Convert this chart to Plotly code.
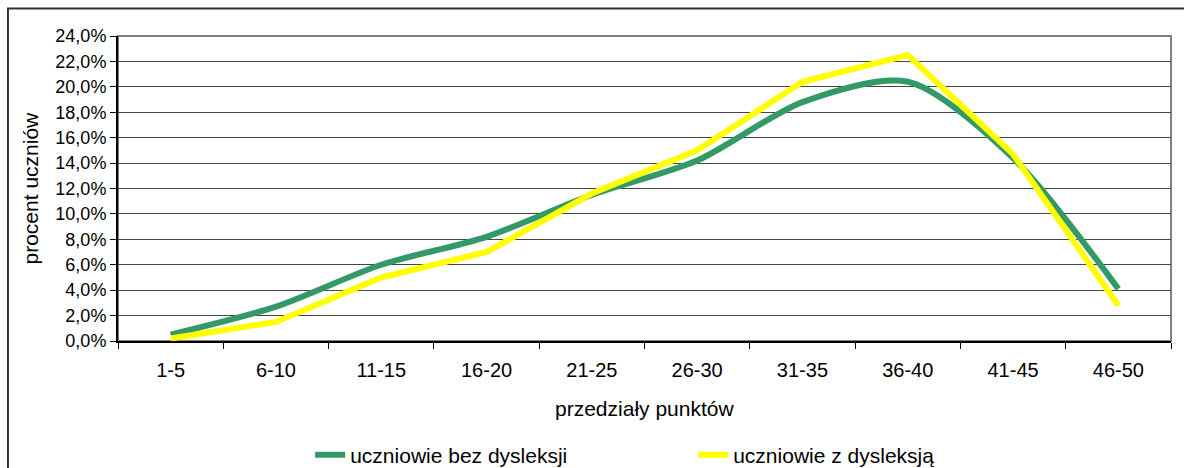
import plotly.graph_objects as go

categories = ["1-5", "6-10", "11-15", "16-20", "21-25", "26-30", "31-35", "36-40", "41-45", "46-50"]
bez_dysleksji = [0.5, 2.7, 6.0, 8.2, 11.5, 14.2, 18.8, 20.4, 14.4, 4.1]
z_dysleksja = [0.2, 1.5, 5.0, 7.0, 11.6, 15.0, 20.4, 22.5, 14.7, 2.8]
y_ticks = [0, 2, 4, 6, 8, 10, 12, 14, 16, 18, 20, 22, 24]
y_tick_labels = [f"{v:.1f}".replace(".", ",") + "%" for v in y_ticks]

FONT = "Liberation Sans, Arial, sans-serif"

fig = go.Figure()
fig.add_trace(go.Scatter(
    x=categories, y=bez_dysleksji, mode="lines", name="uczniowie bez dysleksji",
    line=dict(color="#339966", width=6, shape="spline", smoothing=0.8),
))
fig.add_trace(go.Scatter(
    x=categories, y=z_dysleksja, mode="lines", name="uczniowie z dysleksją",
    line=dict(color="#FFFF00", width=6),
))

fig.update_layout(
    width=1184, height=468,
    margin=dict(l=118, r=13, t=36, b=127, autoexpand=False),
    paper_bgcolor="white", plot_bgcolor="white",
    font=dict(family=FONT, color="black", size=18),
    showlegend=True,
    legend=dict(
        orientation="h", x=0.1825, y=-0.374, xanchor="left", yanchor="middle",
        font=dict(size=21, family=FONT), entrywidth=338, entrywidthmode="pixels",
        bgcolor="rgba(0,0,0,0)", itemwidth=30,
    ),
    xaxis=dict(
        type="category", range=[-0.5, 9.5], showgrid=False,
        showline=True, linecolor="black", linewidth=2,
        ticks="outside", tickson="boundaries", ticklen=6, tickcolor="black",
        tickfont=dict(size=20, family=FONT), ticklabelstandoff=10,
        zeroline=False, automargin=False,
    ),
    yaxis=dict(
        range=[0, 24], tickvals=y_ticks, ticktext=y_tick_labels,
        showgrid=True, gridcolor="#444444", gridwidth=1,
        showline=True, linecolor="black", linewidth=2,
        ticks="outside", ticklen=6, tickcolor="black",
        tickfont=dict(size=18, family=FONT), zeroline=False, automargin=False,
    ),
    shapes=[
        dict(type="rect", xref="paper", yref="paper", x0=0, x1=1, y0=0, y1=1,
             line=dict(color="#808080", width=2), layer="below"),
        dict(type="rect", xref="paper", yref="paper", x0=-0.1045, x1=1.2, y0=-0.6, y1=1.090,
             line=dict(color="#333333", width=2), layer="below"),
    ],
    annotations=[
        dict(text="przedziały punktów", xref="paper", yref="paper", x=0.5, y=(341 - 408) / 305,
             xanchor="center", yanchor="middle", showarrow=False, font=dict(size=21, family=FONT)),
        dict(text="procent uczniów", xref="paper", yref="paper", x=(30 - 118) / 1053, y=0.5,
             xanchor="center", yanchor="middle", textangle=-90, showarrow=False,
             font=dict(size=21, family=FONT)),
    ],
)

fig.write_html(
    "out.html",
    config={"displayModeBar": False},
    post_script="document.body.style.margin='0';document.body.style.overflow='hidden';",
)
